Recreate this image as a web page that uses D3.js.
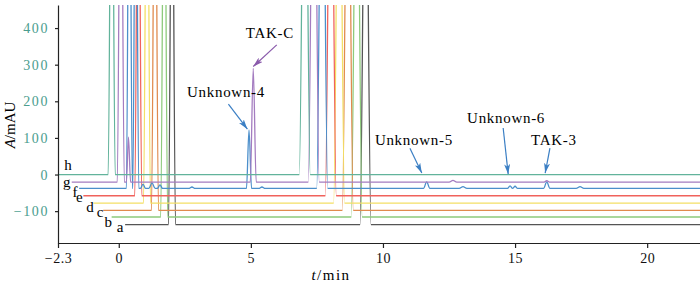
<!DOCTYPE html>
<html>
<head>
	<meta charset="utf-8">
	<script src="https://cdn.jsdelivr.net/npm/d3@7"></script>
	<style>
		body { margin: 0; background: #fff; }
		text { font-family: 'Liberation Serif', 'Times New Roman', serif; }
	</style>
</head>
<body>
	<svg width="700" height="282"></svg>

	<script>
		// chromatograms, bottom (a) to top (h)
		var traceNames = ['a', 'b', 'c', 'd', 'e', 'f', 'g', 'h'];
		var baselines = [-137, -116, -98, -78, -58, -38, -21, 0];
		var startTimes = [0.24, -0.27, -0.59, -0.96, -1.34, -1.5, -1.78, -2.3];
		var endTime = 22;

		// peaks: [time, height above baseline, half width]
		var peaksA = [[2.015, 1200, 0.132], [9.34, 1200, 0.208]];
		var peaksB = [[1.72, 1200, 0.132], [9.006, 1200, 0.208]];
		var peaksC = [[1.371, 1200, 0.132], [8.67, 1200, 0.208]];
		var peaksD = [[1.069, 1200, 0.132], [8.34, 1200, 0.208]];
		var peaksE = [[0.739, 1200, 0.132], [8.025, 1200, 0.208]];
		var peaksF = [[0.402, 1200, 0.112], [0.645, 1200, 0.112], [0.917, 12, 0.096], [1.258, 15, 0.12],
			[1.56, 10, 0.096], [2.77, 4, 0.12], [4.93, 160, 0.096], [5.42, 4, 0.12], [7.70, 1200, 0.208],
			[11.655, 18, 0.12], [13.03, 5, 0.144], [14.81, 7, 0.096], [15.0, 6, 0.096], [16.20, 18, 0.12],
			[17.46, 5, 0.144]];
		var peaksG = [[0.077, 1200, 0.132], [0.368, 123, 0.08], [5.09, 311, 0.112], [7.38, 1200, 0.208],
			[12.65, 5, 0.144], [16.20, 4, 0.12]];
		var peaksH = [[-0.268, 1200, 0.132], [7.04, 1200, 0.208]];
		var tracePeaks = [peaksA, peaksB, peaksC, peaksD, peaksE, peaksF, peaksG, peaksH];

		// trace letter positions [time, value]
		var labelPos = [[0.05, -142], [-0.40, -129], [-0.71, -102], [-1.09, -89],
			[-1.49, -61], [-1.66, -47], [-1.97, -20], [-1.92, 26]];

		var xTicks = [-2.3, 0, 5, 10, 15, 20];
		var yTicks = [-100, 0, 100, 200, 300, 400];

		// annotations: text, text position, arrow from, arrow to, trace
		var annoText = ['TAK-C', 'Unknown-4', 'Unknown-5', 'Unknown-6', 'TAK-3'];
		var annoPos = [[5.72, 386], [4.06, 225], [11.17, 94], [14.66, 154], [16.47, 94]];
		var annoFrom = [[5.98, 354], [4.15, 192], [11.02, 72], [14.55, 127], [16.32, 72]];
		var annoTo = [[5.09, 295], [4.87, 124], [11.47, 4], [14.74, 1], [16.14, 4]];
		var annoTrace = ['g', 'f', 'f', 'f', 'f'];

		var colors = {
			a: '#555555', b: '#8dca7c', c: '#e08a4e', d: '#f3df66',
			e: '#f0625c', f: '#4b8fcb', g: '#a47cc0', h: '#62b39b'
		};

		var svg = d3.select('svg');
		var x = d3.scaleLinear().domain([-2.3, endTime]).range([58, 700]);
		var y = d3.scaleLinear().domain([-187, 463]).range([243, 5]);

		var defs = svg.append('defs');
		defs.append('clipPath').attr('id', 'plot')
			.append('rect').attr('x', 58).attr('y', 5).attr('width', 642).attr('height', 238);

		['g', 'f'].forEach(function(k) {
			defs.append('marker')
				.attr('id', 'arrow-' + k)
				.attr('viewBox', '0 0 10 6')
				.attr('refX', 10).attr('refY', 3)
				.attr('markerWidth', 10).attr('markerHeight', 6)
				.attr('markerUnits', 'userSpaceOnUse')
				.attr('orient', 'auto')
				.append('path')
				.attr('d', 'M0,0 L10,3 L0,6 L2.5,3 Z')
				.style('fill', k === 'g' ? '#8a5aab' : '#3b7fc4');
		});

		var line = d3.line()
			.x(function(d) { return x(d[0]); })
			.y(function(d) { return y(d[1]); })
			.curve(d3.curveMonotoneX);

		function tracePoints(i) {
			var b = baselines[i];
			var pts = [[startTimes[i], b]];
			tracePeaks[i].forEach(function(p) {
				pts.push([p[0] - p[2], b], [p[0], b + p[1]], [p[0] + p[2], b]);
			});
			pts.push([endTime, b]);
			return pts;
		}

		svg.append('g')
			.attr('clip-path', 'url(#plot)')
			.selectAll('path')
			.data(traceNames)
			.enter()
			.append('path')
			.attr('d', function(d, i) { return line(tracePoints(i)); })
			.style('fill', 'none')
			.style('stroke', function(d) { return colors[d]; })
			.style('stroke-width', 1.3);

		// trace letters
		svg.append('g')
			.selectAll('text')
			.data(traceNames)
			.enter()
			.append('text')
			.attr('x', function(d, i) { return x(labelPos[i][0]); })
			.attr('y', function(d, i) { return y(labelPos[i][1]); })
			.attr('text-anchor', 'middle')
			.attr('dominant-baseline', 'central')
			.style('font-size', '15px')
			.text(function(d) { return d; });

		// axes
		var xAxis = svg.append('g')
			.attr('transform', 'translate(0,' + y(-187) + ')')
			.call(d3.axisBottom(x).tickValues(xTicks).tickSize(5).tickSizeOuter(0).tickPadding(5)
				.tickFormat(function(d) { return d === -2.3 ? '\u22122.3' : d; }));
		xAxis.selectAll('text').style('font-size', '14px').style('fill', '#111').style('letter-spacing', '0.5px');

		var yAxis = svg.append('g')
			.attr('transform', 'translate(' + x(-2.3) + ',0)')
			.call(d3.axisLeft(y).tickValues(yTicks).tickSize(3).tickSizeOuter(0).tickPadding(6));
		yAxis.selectAll('text').style('font-size', '14px').style('fill', '#4a9d8e').style('letter-spacing', '1.6px');

		svg.selectAll('.domain, .tick line').style('stroke', '#222').style('stroke-width', 1.2);

		// axis titles
		var yTitle = svg.append('text')
			.attr('transform', 'translate(15,125) rotate(-90)')
			.attr('text-anchor', 'middle')
			.style('font-size', '15px');
		yTitle.append('tspan').style('font-style', 'italic').text('A');
		yTitle.append('tspan').text('/mAU');

		var xTitle = svg.append('text')
			.attr('x', 331).attr('y', 280)
			.attr('text-anchor', 'middle')
			.style('font-size', '15px')
			.style('letter-spacing', '1.5px');
		xTitle.append('tspan').style('font-style', 'italic').text('t');
		xTitle.append('tspan').text('/min');

		// annotations
		var anno = svg.append('g');
		annoText.forEach(function(t, i) {
			var c = annoTrace[i] === 'g' ? '#8a5aab' : '#3b7fc4';
			anno.append('line')
				.attr('x1', x(annoFrom[i][0])).attr('y1', y(annoFrom[i][1]))
				.attr('x2', x(annoTo[i][0])).attr('y2', y(annoTo[i][1]))
				.style('stroke', c).style('stroke-width', 1.2)
				.attr('marker-end', 'url(#arrow-' + annoTrace[i] + ')');
			anno.append('text')
				.attr('x', x(annoPos[i][0])).attr('y', y(annoPos[i][1]))
				.attr('text-anchor', 'middle')
				.attr('dominant-baseline', 'central')
				.style('font-size', '15px')
				.style('letter-spacing', '0.7px')
				.text(t);
		});
	</script>
</body>
</html>
